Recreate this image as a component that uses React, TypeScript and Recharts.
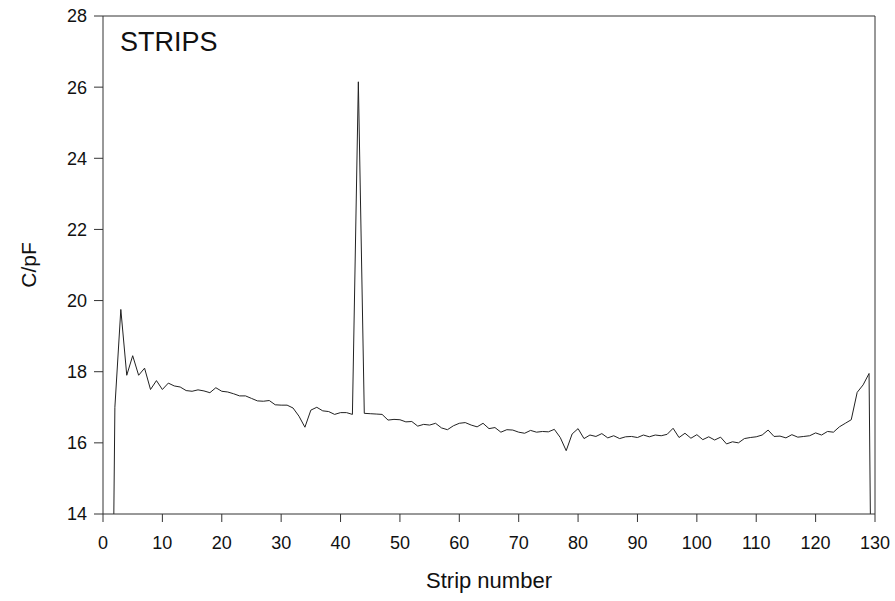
import { LineChart, Line, XAxis, YAxis, ReferenceLine, Label } from "recharts"

// strip number 1..130, measured capacitance in pF
const strips = Array.from({ length: 130 }, (_, i) => i + 1)

const capacitance = [
  0, 17.0, 19.75, 17.9, 18.45, 17.9, 18.1, 17.5, 17.75, 17.5,
  17.68, 17.6, 17.57, 17.47, 17.45, 17.49, 17.46, 17.41, 17.55, 17.45,
  17.43, 17.38, 17.32, 17.32, 17.25, 17.18, 17.17, 17.19, 17.07, 17.06,
  17.06, 16.98, 16.75, 16.44, 16.92, 17.0, 16.9, 16.88, 16.8, 16.85,
  16.85, 16.8, 26.15, 16.83, 16.82, 16.81, 16.8, 16.64, 16.66, 16.65,
  16.59, 16.6, 16.47, 16.52, 16.5, 16.55, 16.42, 16.37, 16.48, 16.55,
  16.57, 16.5, 16.45, 16.55, 16.4, 16.43, 16.3, 16.37, 16.36, 16.3,
  16.27, 16.35, 16.3, 16.32, 16.31, 16.38, 16.15, 15.78, 16.25, 16.4,
  16.12, 16.22, 16.18, 16.26, 16.14, 16.2, 16.12, 16.17, 16.18, 16.15,
  16.22, 16.17, 16.22, 16.2, 16.24, 16.41, 16.15, 16.27, 16.13, 16.23,
  16.09, 16.17, 16.08, 16.16, 15.97, 16.03, 16.0, 16.12, 16.15, 16.17,
  16.22, 16.36, 16.18, 16.19, 16.14, 16.23, 16.16, 16.18, 16.2, 16.28,
  16.22, 16.32, 16.3, 16.45, 16.55, 16.65, 17.42, 17.63, 17.95, 0,
]

const xTicks = [0, 10, 20, 30, 40, 50, 60, 70, 80, 90, 100, 110, 120, 130]
const yTicks = [14, 16, 18, 20, 22, 24, 26, 28]

const data = strips.map((s, i) => ({ strip: s, c: capacitance[i] }))

const font = "'Liberation Sans', Arial, sans-serif"
const axisColor = "#333"

export default function App() {
  return (
    <div style={{ position: "absolute", left: 0, top: 0, width: 895, height: 601, background: "#fff", fontFamily: font }}>
      <LineChart
        width={895}
        height={601}
        data={data}
        margin={{ top: 16, right: 20, left: 43, bottom: 47 }}
      >
        <XAxis
          dataKey="strip"
          type="number"
          domain={[0, 130]}
          ticks={xTicks}
          allowDataOverflow
          stroke={axisColor}
          tickSize={8}
          tickMargin={14}
          height={40}
          tick={{ fill: "#111", fontSize: 18, fontFamily: font }}
        >
          <Label value="Strip number" position="bottom" offset={18} style={{ fill: "#111", fontSize: 22, fontFamily: font }} />
        </XAxis>
        <YAxis
          type="number"
          domain={[14, 28]}
          ticks={yTicks}
          allowDataOverflow
          stroke={axisColor}
          tickSize={9}
          tickMargin={7}
          width={60}
          tick={{ fill: "#111", fontSize: 18, fontFamily: font }}
        >
          <Label value="C/pF" angle={-90} position="left" offset={14} style={{ fill: "#111", fontSize: 21, fontFamily: font, textAnchor: "middle" }} />
        </YAxis>
        <ReferenceLine y={28} stroke={axisColor} />
        <ReferenceLine x={130} stroke={axisColor} />
        <Line
          type="linear"
          dataKey="c"
          stroke="#222"
          strokeWidth={1}
          dot={false}
          isAnimationActive={false}
        />
      </LineChart>
      <div style={{ position: "absolute", left: 120, top: 27, fontSize: 27, color: "#111" }}>STRIPS</div>
    </div>
  )
}
